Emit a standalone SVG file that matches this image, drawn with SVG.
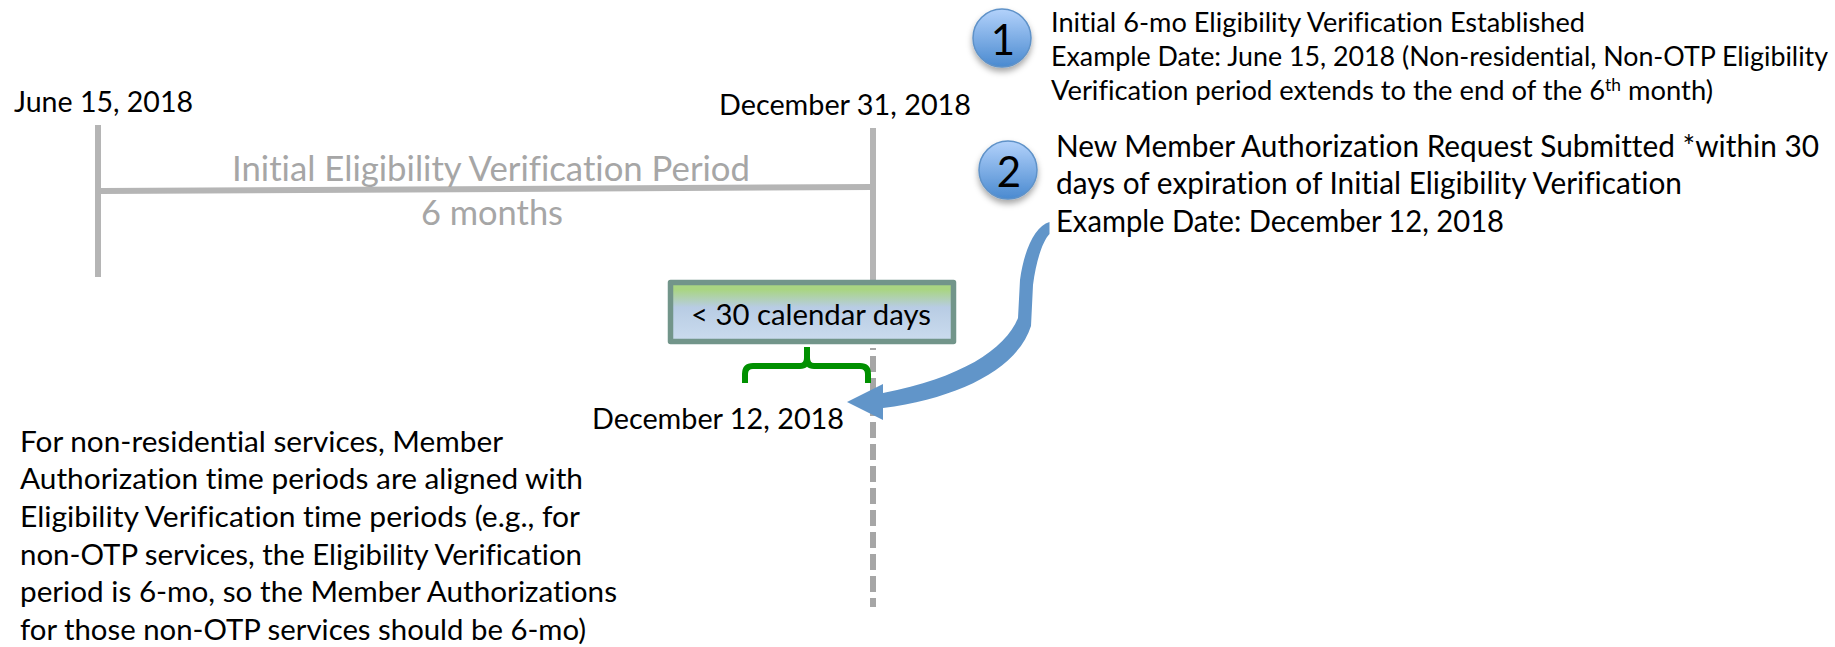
<svg xmlns="http://www.w3.org/2000/svg" width="1835" height="647" viewBox="0 0 1835 647">
<style>
text{font-family:"Lato","Liberation Sans",sans-serif;fill:#000;font-variant-ligatures:none}
.d{font-size:29px}
.s{font-size:26.8px}
.m{font-size:30px}
.g{font-size:35px;fill:#a6a6a6}
.n{font-size:42px;text-anchor:middle}
.b{font-size:29.8px}
.t{fill:none;stroke:#b5b5b5;stroke-width:6}
</style>
<defs>
<linearGradient id="bx" x1="0" y1="0" x2="0" y2="1"><stop offset="0" stop-color="#a9d582"/><stop offset=".12" stop-color="#a9d582"/><stop offset=".42" stop-color="#b8cce4"/><stop offset="1" stop-color="#cbdcee"/></linearGradient>
<linearGradient id="ball" x1="0" y1="0" x2="0" y2="1"><stop offset="0" stop-color="#b3d2fb"/><stop offset="1" stop-color="#4a8ad0"/></linearGradient>
<filter id="sh" x="-30%" y="-30%" width="160%" height="170%"><feDropShadow dx="0" dy="4" stdDeviation="3" flood-color="#000" flood-opacity=".35"/></filter>
</defs>
<g id="connectors">
<path class="t" d="M98 125V277"/>
<path class="t" d="M101 191L873 187"/>
<path class="t" d="M873 128V282"/>
<path d="M873 348V607" fill="none" stroke="#a6a6a6" stroke-width="6" stroke-dasharray="16 6" stroke-dashoffset="14"/>
<path id="bracket" d="M745 383V374Q745 366 753 366H800Q807 366 807 358V347M807 358Q807 366 814 366H860Q868 366 868 374V383" fill="none" stroke="#009000" stroke-width="6"/>
<path d="M1049.5 222C1035 226 1024 250 1020 280L1018 318C1005 350 960 378 883 393L883 384L847 402L883 420L883 408C960 398 1018 368 1031 326L1033 285C1036 262 1042 242 1049.5 234Z" fill="#6195c9"/>
</g>
<g id="date-june"><text class="d" x="14" y="112" textLength="179" lengthAdjust="spacingAndGlyphs">June 15, 2018</text></g>
<g id="date-dec31"><text class="d" x="719" y="115" textLength="252" lengthAdjust="spacingAndGlyphs">December 31, 2018</text></g>
<g id="period"><text class="g" x="232" y="181" textLength="518" lengthAdjust="spacingAndGlyphs">Initial Eligibility Verification Period</text><text class="g" x="421" y="225" textLength="142" lengthAdjust="spacingAndGlyphs">6 months</text></g>
<g id="window"><rect x="670.5" y="282.5" width="283" height="59" fill="url(#bx)" stroke="#72958a" stroke-width="5.5" stroke-linejoin="round"/><text class="d" x="691" y="325" style="font-size:29.6px" textLength="240" lengthAdjust="spacingAndGlyphs">&lt; 30 calendar days</text></g>
<g id="date-dec12"><text class="d" x="592" y="429" textLength="252" lengthAdjust="spacingAndGlyphs">December 12, 2018</text></g>
<g id="badge-1"><circle cx="1002" cy="38" r="29" fill="url(#ball)" stroke="#5f92c8" stroke-width="1.5" filter="url(#sh)"/><text class="n" x="1003" y="55">1</text></g>
<g id="badge-2"><circle cx="1008" cy="170" r="29" fill="url(#ball)" stroke="#5f92c8" stroke-width="1.5" filter="url(#sh)"/><text class="n" x="1009" y="187">2</text></g>
<g id="step-1"><text class="s" x="1051" y="32" textLength="534" lengthAdjust="spacingAndGlyphs">Initial 6-mo Eligibility Verification Established</text><text class="s" x="1051" y="66" textLength="777" lengthAdjust="spacingAndGlyphs">Example Date: June 15, 2018 (Non-residential, Non-OTP Eligibility</text><text class="s" x="1051" y="100" textLength="662" lengthAdjust="spacingAndGlyphs">Verification period extends to the end of the 6<tspan font-size="17" dy="-9">th</tspan><tspan dy="9"> month)</tspan></text></g>
<g id="step-2"><text class="m" x="1056" y="157" textLength="763" lengthAdjust="spacingAndGlyphs">New Member Authorization Request Submitted *within 30</text><text class="m" x="1056" y="194" textLength="626" lengthAdjust="spacingAndGlyphs">days of expiration of Initial Eligibility Verification</text><text class="m" x="1056" y="232" textLength="448" lengthAdjust="spacingAndGlyphs">Example Date: December 12, 2018</text></g>
<g id="note"><text class="b" x="20" y="452" textLength="483" lengthAdjust="spacingAndGlyphs">For non-residential services, Member</text><text class="b" x="20" y="489" textLength="563" lengthAdjust="spacingAndGlyphs">Authorization time periods are aligned with</text><text class="b" x="20" y="527" textLength="560" lengthAdjust="spacingAndGlyphs">Eligibility Verification time periods (e.g., for</text><text class="b" x="20" y="565" textLength="562" lengthAdjust="spacingAndGlyphs">non-OTP services, the Eligibility Verification</text><text class="b" x="20" y="602" textLength="597" lengthAdjust="spacingAndGlyphs">period is 6-mo, so the Member Authorizations</text><text class="b" x="20" y="640" textLength="566" lengthAdjust="spacingAndGlyphs">for those non-OTP services should be 6-mo)</text></g>
</svg>
